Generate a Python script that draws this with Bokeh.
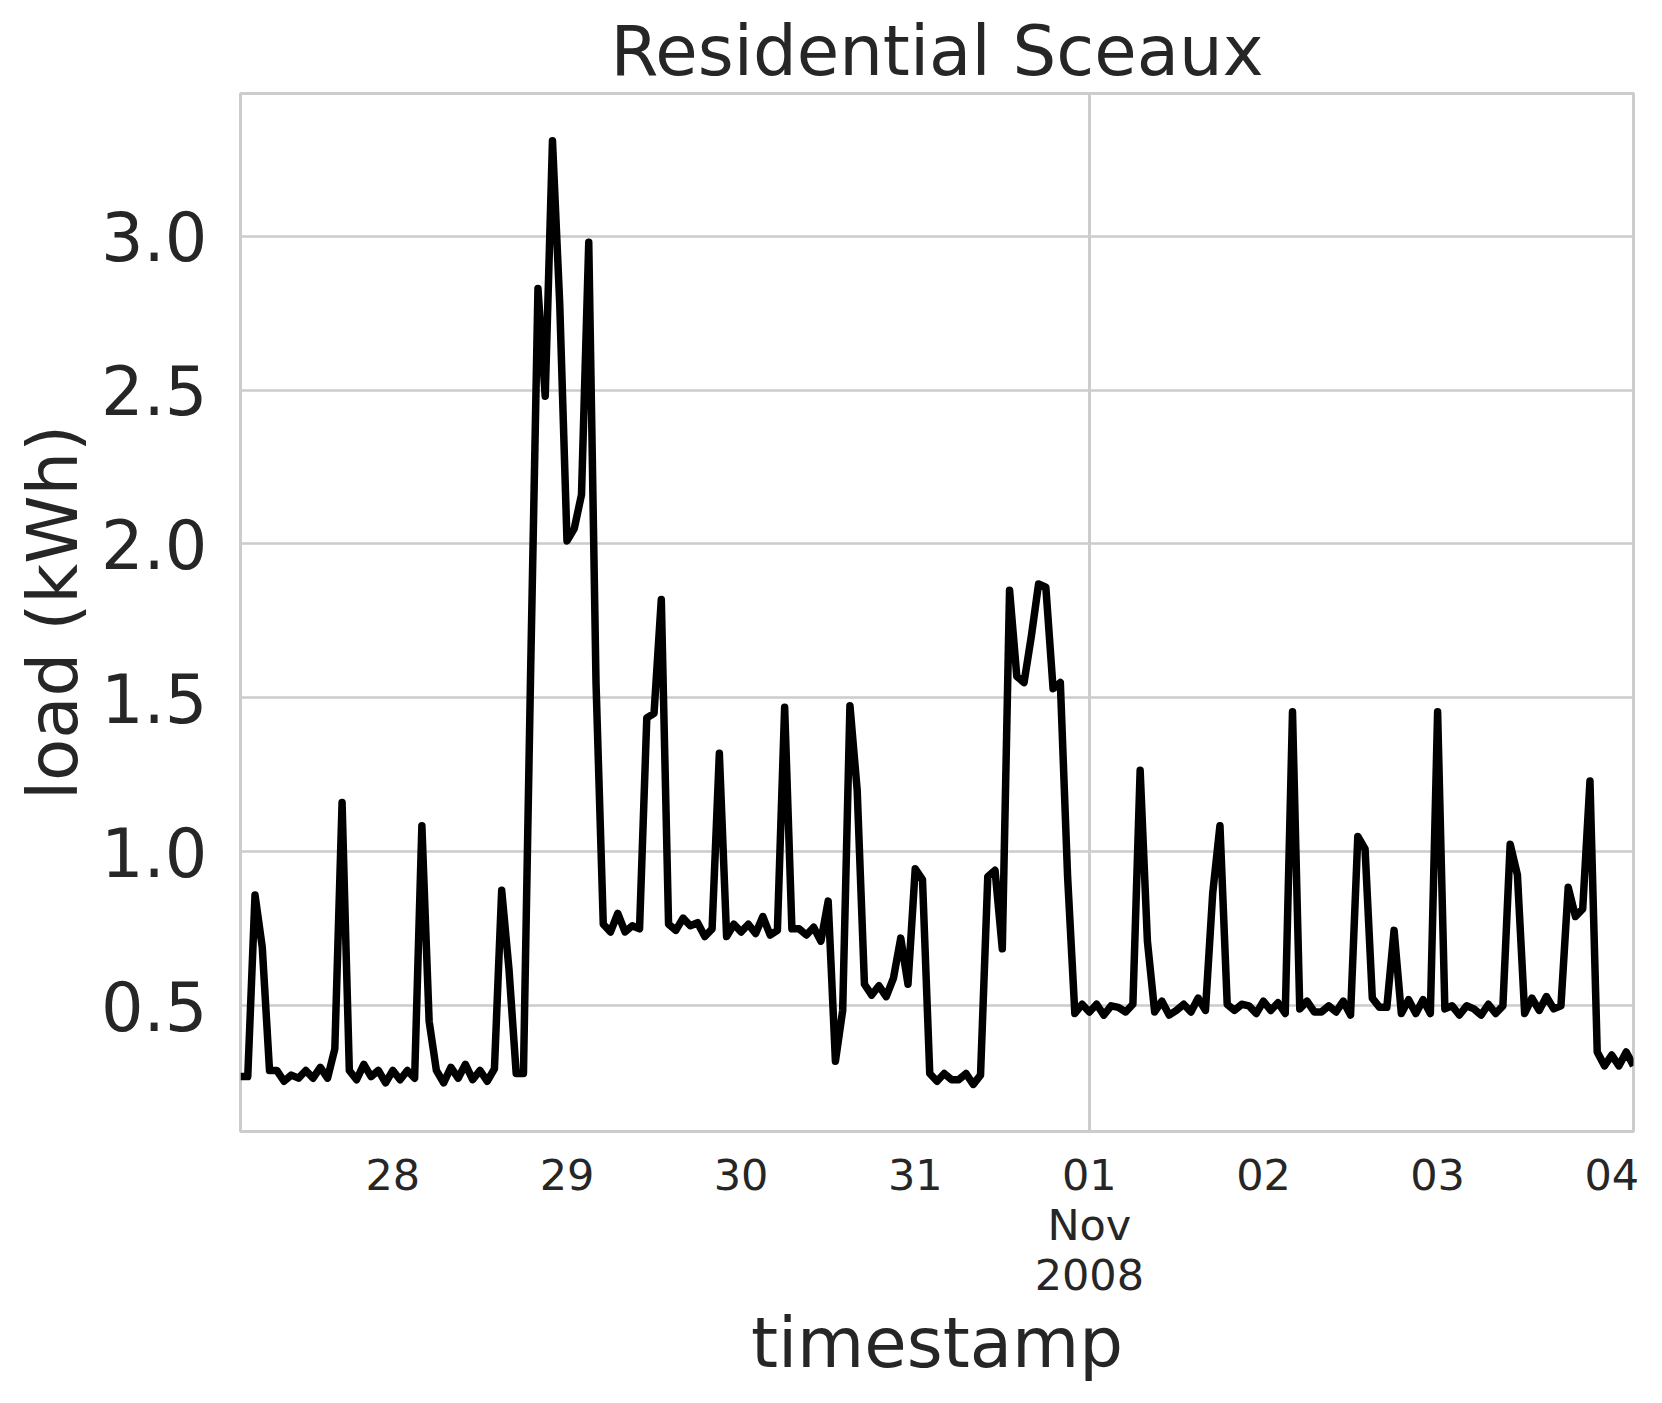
import pandas as pd
from bokeh.plotting import figure
from bokeh.models import ColumnDataSource, Range1d, FixedTicker, NumeralTickFormatter
from bokeh.embed import file_html
from bokeh.resources import INLINE

# ---- data: hourly load, Residential Sceaux ----
start_time = "2008-10-27 03:00"
load_kwh = [
    0.27, 0.27, 0.86, 0.69, 0.29, 0.29, 0.255, 0.275, 0.265, 0.29,
    0.265, 0.30, 0.265, 0.36, 1.16, 0.29, 0.26, 0.31, 0.27, 0.29,
    0.25, 0.29, 0.26, 0.29, 0.265, 1.085, 0.45, 0.29, 0.25, 0.30,
    0.265, 0.31, 0.26, 0.29, 0.255, 0.295, 0.875, 0.62, 0.28, 0.28,
    1.6, 2.83, 2.48, 3.31, 2.78, 2.01, 2.05, 2.16, 2.98, 1.55,
    0.765, 0.74, 0.80, 0.74, 0.76, 0.75, 1.435, 1.45, 1.82, 0.765,
    0.745, 0.785, 0.76, 0.77, 0.725, 0.75, 1.32, 0.725, 0.765, 0.74,
    0.765, 0.735, 0.79, 0.73, 0.745, 1.47, 0.75, 0.75, 0.73, 0.755,
    0.71, 0.84, 0.32, 0.485, 1.475, 1.20, 0.57, 0.535, 0.565, 0.53,
    0.59, 0.72, 0.57, 0.945, 0.91, 0.28, 0.255, 0.28, 0.26, 0.26,
    0.28, 0.245, 0.275, 0.92, 0.94, 0.685, 1.85, 1.57, 1.55, 1.70,
    1.87, 1.86, 1.53, 1.55, 0.92, 0.475, 0.505, 0.48, 0.505, 0.47,
    0.50, 0.495, 0.48, 0.505, 1.265, 0.71, 0.48, 0.515, 0.47, 0.485,
    0.505, 0.48, 0.525, 0.485, 0.865, 1.085, 0.505, 0.485, 0.505, 0.50,
    0.475, 0.515, 0.485, 0.51, 0.475, 1.455, 0.49, 0.515, 0.48, 0.48,
    0.50, 0.48, 0.515, 0.47, 1.05, 1.01, 0.525, 0.495, 0.495, 0.745,
    0.475, 0.52, 0.475, 0.52, 0.475, 1.455, 0.49, 0.50, 0.47, 0.50,
    0.49, 0.47, 0.505, 0.475, 0.50, 1.025, 0.925, 0.475, 0.525, 0.485,
    0.53, 0.49, 0.50, 0.885, 0.79, 0.815, 1.23, 0.35, 0.305, 0.34,
    0.305, 0.35, 0.305,
]
y_ticks = [0.5, 1.0, 1.5, 2.0, 2.5, 3.0]
x_tick_days = ["2008-10-28", "2008-10-29", "2008-10-30", "2008-10-31",
               "2008-11-01", "2008-11-02", "2008-11-03", "2008-11-04"]
x_tick_labels = ["28", "29", "30", "31", "01\nNov\n2008", "02", "03", "04"]
major_day = "2008-11-01"
title_text = "Residential Sceaux"
x_label = "timestamp"
y_label = "load (kWh)"

timestamps = pd.date_range(start_time, periods=len(load_kwh), freq="h")


def to_ms(t):
    return pd.Timestamp(t).value / 1e6


src = ColumnDataSource(data=dict(t=timestamps, load=load_kwh))

ymin, ymax = min(load_kwh), max(load_kwh)
pad = 0.05 * (ymax - ymin)

FONT = "DejaVu Sans"
TXT = "#262626"
GRID = "#cccccc"

p = figure(width=1662, height=1403, x_axis_type="datetime",
           output_backend="svg", toolbar_location=None,
           x_range=Range1d(to_ms(timestamps[0]), to_ms(timestamps[-1])),
           y_range=Range1d(ymin - pad, ymax + pad),
           min_border_left=240, min_border_right=29,
           min_border_top=93, min_border_bottom=272)

p.line("t", "load", source=src, line_color="black", line_width=7.5,
       line_join="round")

# title
p.title.text = title_text
p.title.text_font = FONT
p.title.text_font_size = "69px"
p.title.text_font_style = "normal"
p.title.text_color = TXT
p.title.align = "center"
p.title.standoff = 6

# frame
p.outline_line_color = GRID
p.outline_line_width = 3
p.background_fill_color = "white"
p.border_fill_color = "white"

# x axis
tick_ms = [to_ms(d) for d in x_tick_days]
p.xaxis.ticker = FixedTicker(ticks=tick_ms)
p.xaxis.major_label_overrides = {ms: lab for ms, lab in zip(tick_ms, x_tick_labels)}
p.xaxis.axis_label = x_label
p.xaxis.axis_label_text_font = FONT
p.xaxis.axis_label_text_font_size = "69px"
p.xaxis.axis_label_text_font_style = "normal"
p.xaxis.axis_label_text_color = TXT
p.xaxis.axis_label_standoff = 0
p.xaxis.major_label_text_font = FONT
p.xaxis.major_label_text_font_size = "43px"
p.xaxis.major_label_text_line_height = 1.0
p.xaxis.major_label_text_color = TXT
p.xaxis.major_label_standoff = 18

# y axis
p.yaxis.ticker = FixedTicker(ticks=y_ticks)
p.yaxis.formatter = NumeralTickFormatter(format="0.0")
p.yaxis.axis_label = y_label
p.yaxis.axis_label_text_font = FONT
p.yaxis.axis_label_text_font_size = "69px"
p.yaxis.axis_label_text_font_style = "normal"
p.yaxis.axis_label_text_color = TXT
p.yaxis.axis_label_standoff = 5
p.yaxis.major_label_text_font = FONT
p.yaxis.major_label_text_font_size = "67px"
p.yaxis.major_label_text_color = TXT
p.yaxis.major_label_standoff = 33

for ax in (p.xaxis[0], p.yaxis[0]):
    ax.axis_line_color = None
    ax.major_tick_line_color = None
    ax.minor_tick_line_color = None
    ax.major_tick_out = 0
    ax.major_tick_in = 0
    ax.minor_tick_out = 0
    ax.minor_tick_in = 0

# grid
p.ygrid.grid_line_color = GRID
p.ygrid.grid_line_width = 2.5
p.xgrid.ticker = FixedTicker(ticks=[to_ms(major_day)])
p.xgrid.grid_line_color = GRID
p.xgrid.grid_line_width = 3

open("out.html", "w").write(file_html(p, INLINE))
